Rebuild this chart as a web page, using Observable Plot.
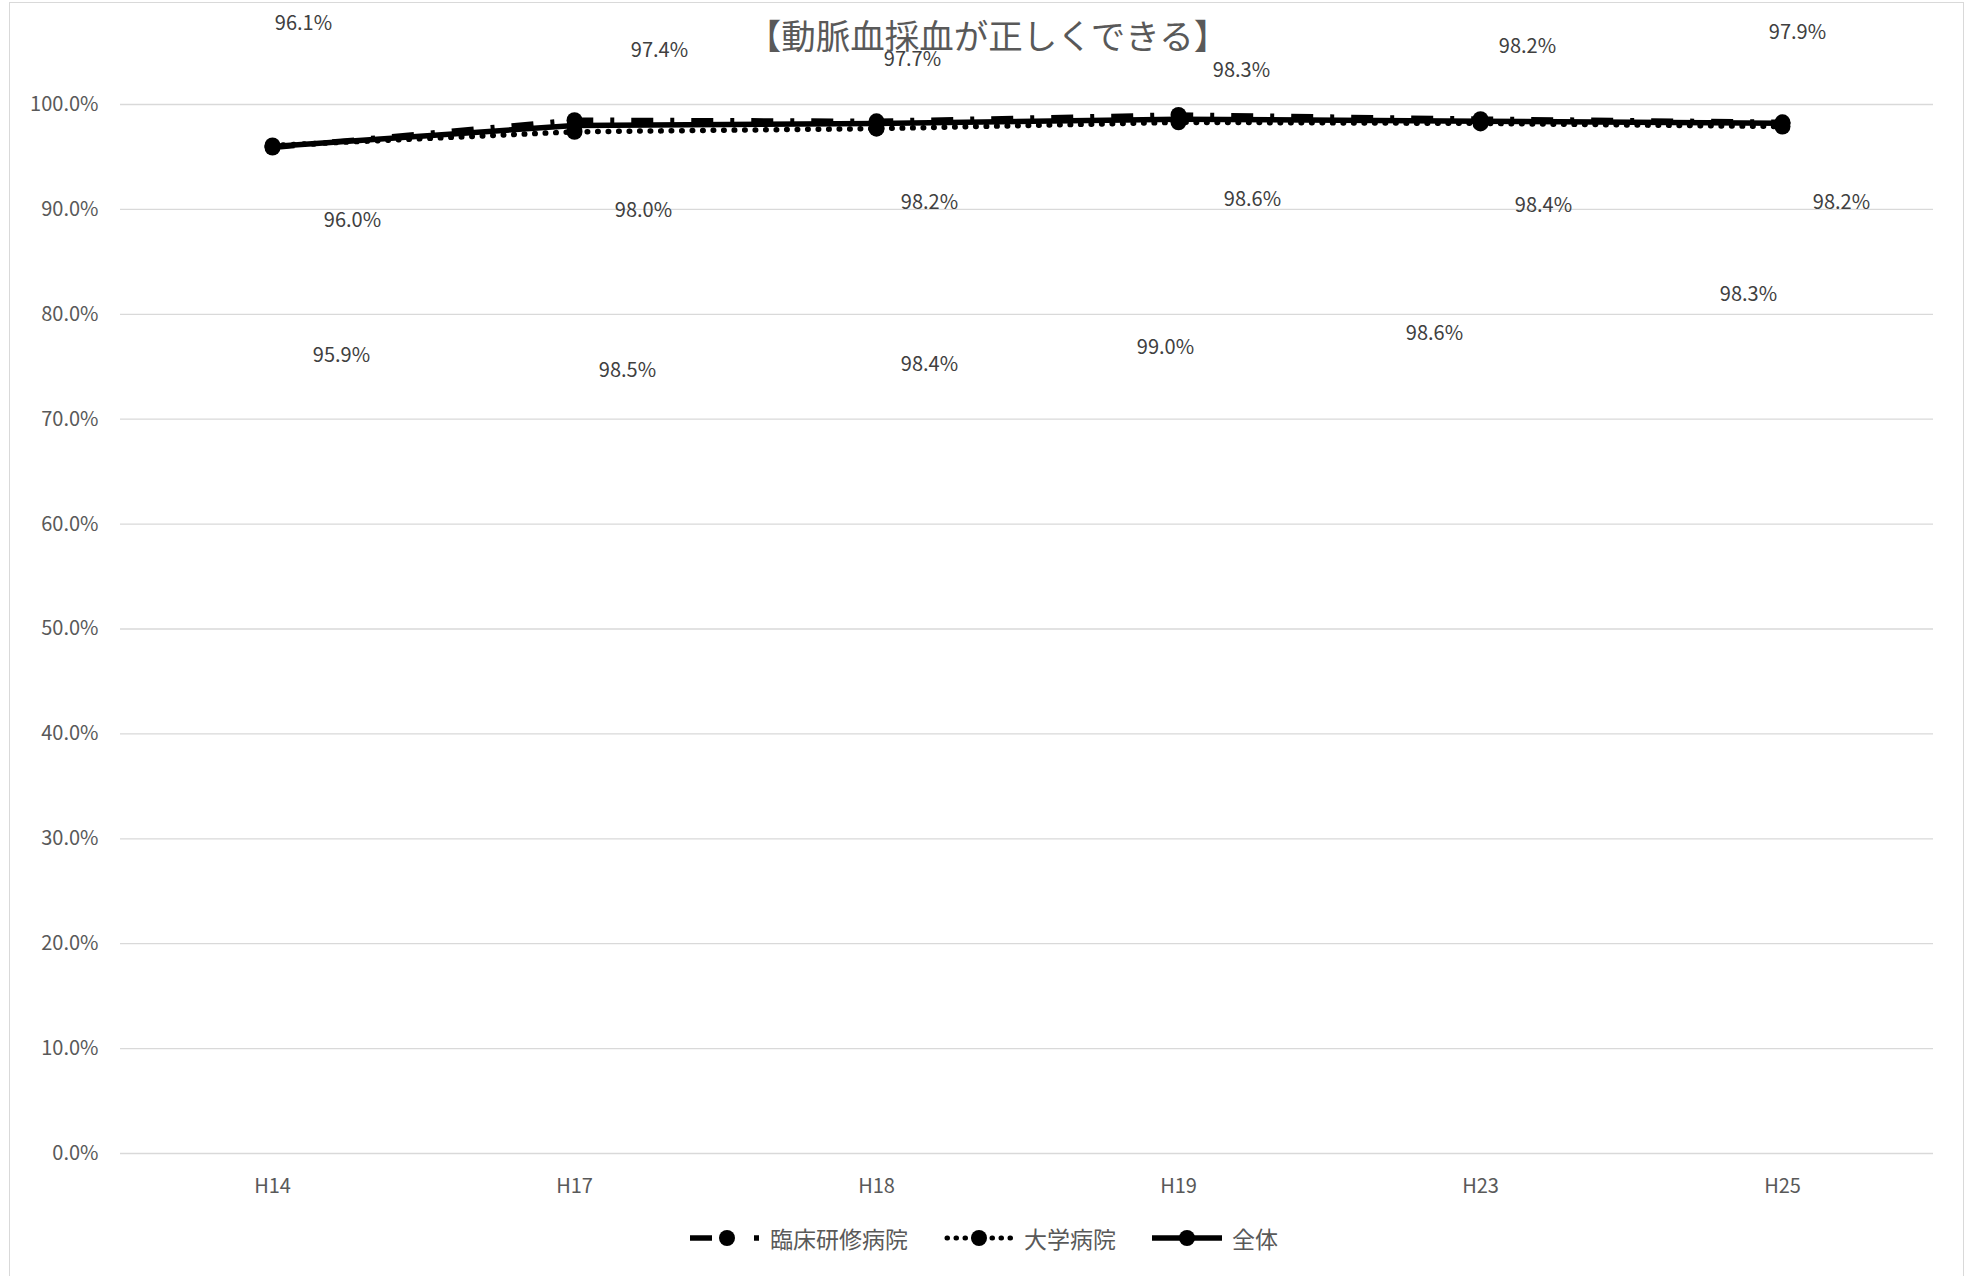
<!DOCTYPE html>
<html>
<head>
<meta charset="utf-8">
<script src="https://cdn.jsdelivr.net/npm/d3@7"></script>
<script src="https://cdn.jsdelivr.net/npm/@observablehq/plot@0.6"></script>
<style>
  html, body { margin: 0; padding: 0; background: #fff; }
  #wrap { position: relative; width: 1968px; height: 1276px; overflow: hidden; font-family: "Noto Sans CJK JP", "Open Sans", sans-serif; }
  #frame { position: absolute; left: 9px; top: 2px; width: 1955px; height: 1290px; border: 1.5px solid #d9d9d9; box-sizing: border-box; }
  #title { position: absolute; left: 10px; width: 1955px; top: 9px; text-align: center; font-size: 34.5px; color: #595959; line-height: 50px; z-index: 2; }
  #chart { position: absolute; left: 0; top: 0; }
  #legend { position: absolute; top: 1221px; left: 0; width: 1968px; display: flex; justify-content: center; align-items: center; font-size: 23px; color: #595959; }
  .item { display: flex; align-items: center; margin: 0 18px; }
  .item svg { margin-right: 10px; }
</style>
</head>
<body>
<div id="wrap">
  <div id="frame"></div>
  <div id="chart"></div>
  <div id="title">【動脈血採血が正しくできる】</div>
  <div id="legend"></div>
</div>
<script>
// ---- data ----
const categories = ["H14", "H17", "H18", "H19", "H23", "H25"];
const seriesNames = ["臨床研修病院", "大学病院", "全体"];
const rinshoValues = [95.9, 98.5, 98.4, 99.0, 98.6, 98.3];
const daigakuValues = [96.1, 97.4, 97.7, 98.3, 98.2, 97.9];
const zentaiValues = [96.0, 98.0, 98.2, 98.6, 98.4, 98.2];
const yTicks = [0, 10, 20, 30, 40, 50, 60, 70, 80, 90, 100];

// label offsets (px) as placed in the original chart
const rinshoLabelDx = [69, 53, 53, -13, -46, -34];
const rinshoLabelDy = [208, 250, 243, 233, 214, 172];
const daigakuLabelDx = [31, 85, 36, 63, 47, 15];
const daigakuLabelDy = [-122, -81, -69, -52, -77, -94];
const zentaiLabelDx = [80, 69, 53, 74, 63, 59];
const zentaiLabelDy = [74, 85, 79, 80, 84, 79];

// ---- build ----
const styles = {
  "臨床研修病院": {strokeDasharray: "22,17,4,17", strokeLinecap: "butt"},
  "大学病院": {strokeDasharray: "0.5,10", strokeLinecap: "round"},
  "全体": {strokeDasharray: null, strokeLinecap: "round"}
};
const valueSets = [rinshoValues, daigakuValues, zentaiValues];
const dxSets = [rinshoLabelDx, daigakuLabelDx, zentaiLabelDx];
const dySets = [rinshoLabelDy, daigakuLabelDy, zentaiLabelDy];

const rows = seriesNames.map((s, si) => categories.map((c, i) => ({series: s, cat: c, value: valueSets[si][i]})));

const marks = [
  Plot.gridY(yTicks, {stroke: "#d9d9d9", strokeOpacity: 1, strokeWidth: 1.3}),
  Plot.axisY(yTicks, {tickSize: 0, tickPadding: 22, tickFormat: d => d.toFixed(1) + "%", fontSize: 20, fill: "#595959"}),
  Plot.axisX({tickSize: 0, tickPadding: 25, fontSize: 20, fill: "#595959"})
];
rows.forEach((data, si) => {
  const st = styles[seriesNames[si]];
  marks.push(Plot.line(data, {x: "cat", y: "value", stroke: "#000", strokeWidth: 5.5,
    strokeDasharray: st.strokeDasharray || undefined, strokeLinecap: st.strokeLinecap, strokeLinejoin: "round"}));
  marks.push(Plot.dot(data, {x: "cat", y: "value", r: 8, fill: "#000", stroke: "none"}));
});
rows.forEach((data, si) => {
  data.forEach((d, i) => {
    marks.push(Plot.text([d], {x: "cat", y: "value", text: d => d.value.toFixed(1) + "%",
      dx: dxSets[si][i], dy: dySets[si][i], fontSize: 20, fill: "#404040"}));
  });
});

const chart = Plot.plot({
  width: 1968,
  height: 1210,
  marginLeft: 120,
  marginRight: 35,
  marginTop: 104,
  marginBottom: 57,
  style: {fontFamily: "'Noto Sans CJK JP', 'Open Sans', sans-serif", color: "#595959", background: "transparent", overflow: "visible"},
  x: {type: "point", domain: categories, padding: 0.5, label: null},
  y: {domain: [0, 100], label: null},
  marks
});
document.getElementById("chart").appendChild(chart);

// ---- legend ----
const legend = document.getElementById("legend");
function swatch(name) {
  const w = 70, h = 22, cy = 11;
  let inner = "";
  if (name === "臨床研修病院") {
    inner = `<line x1="0" y1="${cy}" x2="22" y2="${cy}" stroke="#000" stroke-width="5.5"/>` +
            `<circle cx="37" cy="${cy}" r="8" fill="#000"/>` +
            `<line x1="64" y1="${cy}" x2="69" y2="${cy}" stroke="#000" stroke-width="5.5"/>`;
  } else if (name === "大学病院") {
    inner = `<line x1="3" y1="${cy}" x2="67" y2="${cy}" stroke="#000" stroke-width="5" stroke-dasharray="0.5,8.5" stroke-linecap="round"/>` +
            `<circle cx="35" cy="${cy}" r="8" fill="#000"/>`;
  } else {
    inner = `<line x1="0" y1="${cy}" x2="70" y2="${cy}" stroke="#000" stroke-width="5.5"/>` +
            `<circle cx="35" cy="${cy}" r="8" fill="#000"/>`;
  }
  return `<svg width="${w}" height="${h}">${inner}</svg>`;
}
seriesNames.forEach(name => {
  const el = document.createElement("div");
  el.className = "item";
  el.innerHTML = swatch(name) + `<span>${name}</span>`;
  legend.appendChild(el);
});
</script>
</body>
</html>
